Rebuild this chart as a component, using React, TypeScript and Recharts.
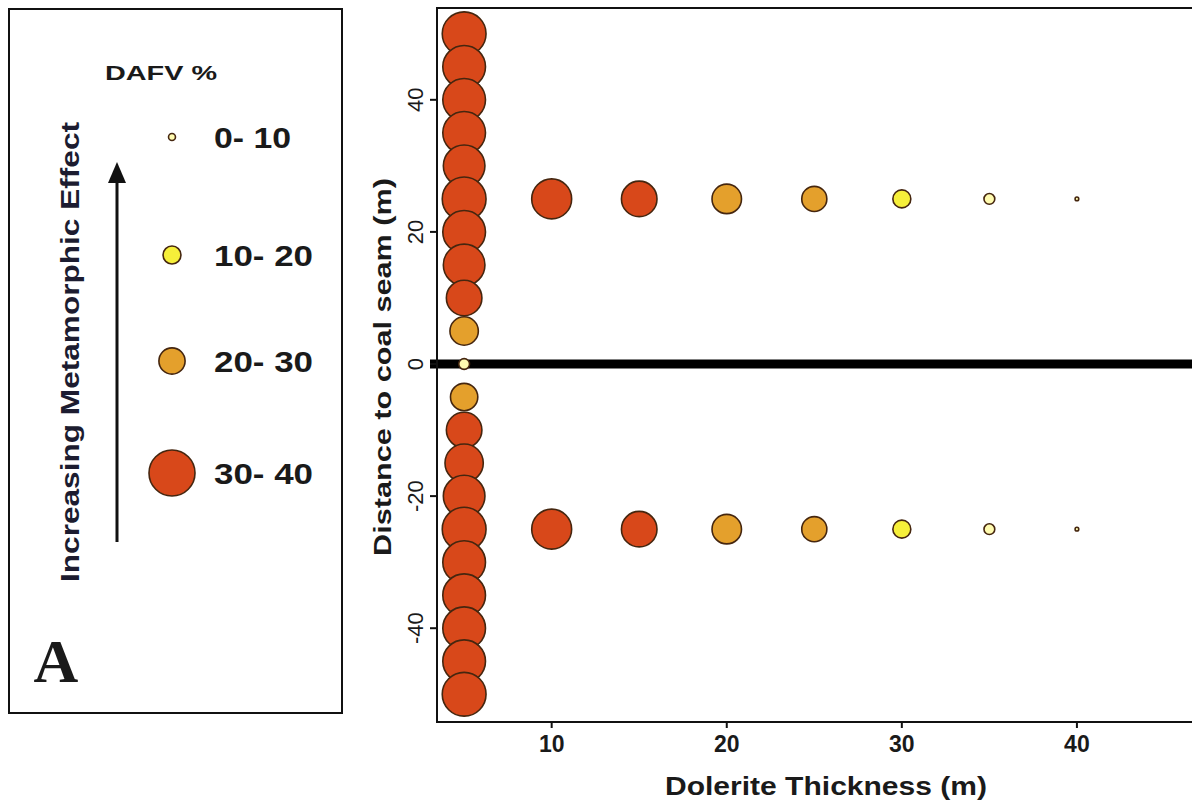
import React from 'react';
import { ScatterChart, Scatter, XAxis, YAxis, ReferenceLine, ReferenceArea, Label } from 'recharts';

// ---- data ----
const columnThickness = 5;
const columnDistances = [50, 45, 40, 35, 30, 25, 20, 15, 10, 5, 0, -5, -10, -15, -20, -25, -30, -35, -40, -45, -50];
const columnDafv = [38, 37, 37, 37, 36, 38, 37, 36, 30.5, 24, 8, 23, 30.5, 33, 36, 38, 37, 37, 37, 37, 38];

const rowThickness = [10, 15, 20, 25, 30, 35, 40];
const rowDistances = [25, -25];
const rowDafv = [34.5, 30.5, 25, 21, 14.5, 8, 1.5];

const classLabels = ['0- 10', '10- 20', '20- 30', '30- 40'];
const classColors = ['#FFFBB0', '#F6EF3A', '#E4A02C', '#D8481A'];
const legendDafv = [4.5, 14.5, 22, 40];

const xTicks = [10, 20, 30, 40];
const yTicks = [-40, -20, 0, 20, 40];

const xTitle = 'Dolerite Thickness (m)';
const yTitle = 'Distance to coal seam (m)';
const legendTitle = 'DAFV %';
const arrowTitle = 'Increasing Metamorphic Effect';
const panelLetter = 'A';

// ---- derived table ----
type Pt = { thickness: number; distance: number; dafv: number };
const points: Pt[] = [];
columnDistances.forEach((d, i) => points.push({ thickness: columnThickness, distance: d, dafv: columnDafv[i] }));
rowDistances.forEach((d) => rowThickness.forEach((t, i) => points.push({ thickness: t, distance: d, dafv: rowDafv[i] })));

const classOf = (v: number) => Math.min(3, Math.floor(v / 10));
const radiusOf = (v: number) => 0.55 * v + 1;
const STROKE = '#45260f';
const SANS = '"Liberation Sans", Arial, sans-serif';

const Dot = (props: any) => {
  const { cx, cy, payload } = props;
  if (cx == null || cy == null) return null;
  const v = payload.dafv;
  return <circle cx={cx} cy={cy} r={radiusOf(v)} fill={classColors[classOf(v)]} stroke={STROKE} strokeWidth={1.6} />;
};

const YTick = (props: any) => {
  const { x, y, payload } = props;
  const cx = x - 12;
  return (
    <text x={cx} y={y} transform={`rotate(-90, ${cx}, ${y})`} textAnchor="middle" dominantBaseline="central"
      fontFamily={SANS} fontSize={22} fill="#1a1a1a">{payload.value}</text>
  );
};

const XTick = (props: any) => {
  const { x, y, payload } = props;
  return (
    <text x={x} y={y + 22} textAnchor="middle" fontFamily={SANS} fontSize={23} fontWeight={700} fill="#1a1a1a">
      {payload.value}
    </text>
  );
};

const XTitle = (props: any) => {
  const vb = props.viewBox || { x: 437, y: 722 };
  const x = vb.x + 389;
  const y = vb.y + 73;
  return (
    <text x={x} y={y} textAnchor="middle" fontFamily={SANS} fontSize={25} fontWeight={700} fill="#1a1a1a"
      textLength={322} lengthAdjust="spacingAndGlyphs">{xTitle}</text>
  );
};

const YTitle = (props: any) => {
  const vb = props.viewBox || { x: 377, y: 8, height: 714 };
  const x = vb.x + 14;
  const y = vb.y + vb.height / 2 + 2;
  return (
    <text x={x} y={y} transform={`rotate(-90, ${x}, ${y})`} textAnchor="middle" fontFamily={SANS} fontSize={24}
      fontWeight={700} fill="#1a1a1a" textLength={378} lengthAdjust="spacingAndGlyphs">{yTitle}</text>
  );
};

const legendY = [137, 255, 361, 473];
const legendTextLen = [77, 99, 99, 99];

const LegendPanel = () => (
  <svg width={350} height={802} style={{ position: 'absolute', left: 0, top: 0 }}>
    <rect x={9} y={9} width={333} height={704} fill="white" stroke="#111" strokeWidth={2} />
    <text x={105} y={80} fontFamily={SANS} fontSize={21} fontWeight={700} fill="#1a1a1a"
      textLength={112} lengthAdjust="spacingAndGlyphs">{legendTitle}</text>
    {classLabels.map((lab, i) => (
      <g key={lab}>
        <circle cx={172} cy={legendY[i]} r={radiusOf(legendDafv[i])} fill={classColors[i]} stroke={STROKE} strokeWidth={1.6} />
        <text x={214} y={legendY[i]} dominantBaseline="central" fontFamily={SANS} fontSize={30} fontWeight={700}
          fill="#1a1a1a" textLength={legendTextLen[i]} lengthAdjust="spacingAndGlyphs">{lab}</text>
      </g>
    ))}
    <line x1={117} y1={542} x2={117} y2={178} stroke="#111" strokeWidth={3} />
    <polygon points="117,162 108,183 126,183" fill="#111" />
    <text x={70} y={582} transform="rotate(-90, 70, 582)" dominantBaseline="central" fontFamily={SANS} fontSize={26}
      fontWeight={700} fill="#1c1c30" textLength={460} lengthAdjust="spacingAndGlyphs">{arrowTitle}</text>
    <text x={56} y={682} textAnchor="middle" fontFamily='"Liberation Serif", "Times New Roman", serif' fontSize={62}
      fontWeight={700} fill="#1a1a1a">{panelLetter}</text>
  </svg>
);

export default function App() {
  return (
    <div style={{ position: 'absolute', left: 0, top: 0, width: 1192, height: 802, overflow: 'hidden', background: 'white' }}>
      <LegendPanel />
      <div style={{ position: 'absolute', left: 0, top: 0 }}>
        <ScatterChart width={1260} height={802} margin={{ top: 8, right: 8, bottom: 0, left: 377 }}>
          <XAxis type="number" dataKey="thickness" domain={[3.45, 50]} ticks={xTicks} allowDataOverflow
            height={80} axisLine={{ stroke: '#111', strokeWidth: 2 }} tickLine={{ stroke: '#111', strokeWidth: 2 }}
            tickSize={6} tick={<XTick />}>
            <Label content={<XTitle />} />
          </XAxis>
          <YAxis type="number" dataKey="distance" domain={[-54.2, 53.9]} ticks={yTicks} allowDataOverflow
            width={60} axisLine={{ stroke: '#111', strokeWidth: 2 }} tickLine={{ stroke: '#111', strokeWidth: 2 }}
            tickSize={7} tick={<YTick />}>
            <Label content={<YTitle />} />
          </YAxis>
          <ReferenceArea x1={3.45} x2={50} y1={-54.2} y2={53.9} fill="none" stroke="#111" strokeWidth={2} ifOverflow="visible" />
          <Scatter data={points} shape={<Dot />} isAnimationActive={false} />
          <ReferenceLine segment={[{ x: 3.05, y: 0 }, { x: 50, y: 0 }]} stroke="#000" strokeWidth={9} ifOverflow="visible" />
        </ScatterChart>
      </div>
    </div>
  );
}
